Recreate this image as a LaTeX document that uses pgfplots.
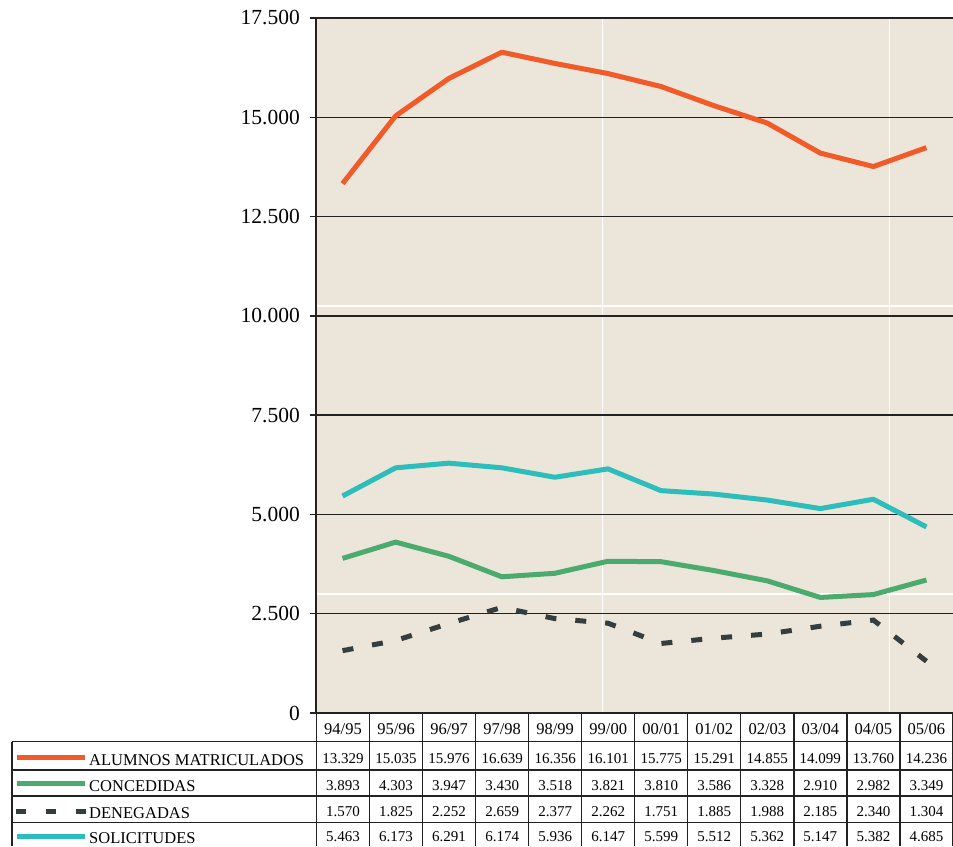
\documentclass[border=0pt]{standalone}
\usepackage{fontspec}
\setmainfont{Liberation Serif}
\usepackage{pgfplots}
\usepackage{pgfplotstable}
\pgfplotsset{compat=1.18}
\definecolor{bgc}{HTML}{ECE5D9}
\definecolor{corange}{HTML}{F15A29}
\definecolor{cgreen}{HTML}{4BAA6D}
\definecolor{cdark}{HTML}{343E3E}
\definecolor{cteal}{HTML}{2DBDBA}
\definecolor{cline}{HTML}{222222}

\pgfplotstableread{
x    alum   conc  dene  soli
0.5  13329  3893  1570  5463
1.5  15035  4303  1825  6173
2.5  15976  3947  2252  6291
3.5  16639  3430  2659  6174
4.5  16356  3518  2377  5936
5.5  16101  3821  2262  6147
6.5  15775  3810  1751  5599
7.5  15291  3586  1885  5512
8.5  14855  3328  1988  5362
9.5  14099  2910  2185  5147
10.5 13760  2982  2340  5382
11.5 14236  3349  1304  4685
}\datatable

\begin{document}
\begin{tikzpicture}[x=1pt,y=1pt]
\useasboundingbox (0,0) rectangle (953,-846);
% textured background and tile seams
\fill[bgc] (316,-713) rectangle (953,-18);
\draw[white,line width=1.3] (602.7,-713) -- (602.7,-18);
\draw[white,line width=1.3] (889.5,-713) -- (889.5,-18);
\draw[white,line width=1.3] (316,-306) -- (953,-306);
\draw[white,line width=1.3] (316,-594) -- (953,-594);
\begin{axis}[
  at={(316pt,-713pt)}, anchor=south west,
  scale only axis, width=637pt, height=695pt,
  xmin=0, xmax=12, ymin=0, ymax=17500,
  xtick=\empty,
  ytick={0,2500,5000,7500,10000,12500,15000,17500},
  scaled y ticks=false,
  ymajorgrids,
  grid style={cline, line width=1.3pt},
  axis lines*=left,
  axis line style={cline, line width=1.4pt},
  ytick style={cline, line width=1.3pt},
  tick align=outside,
  major tick length=6pt,
  yticklabel style={font=\fontsize{21.5}{25}\selectfont, inner sep=2pt, xshift=-8pt},
  /pgf/number format/1000 sep={.},
  /pgf/number format/fixed,
  /pgf/number format/precision=0,
  /pgf/number format/assume math mode=true,
  clip=false,
]
\addplot[corange, line width=5pt, line join=round] table[x=x, y=alum] {\datatable};
\addplot[cgreen, line width=5pt, line join=round] table[x=x, y=conc] {\datatable};
\addplot[cdark, line width=5pt, dash pattern=on 11pt off 19pt] table[x=x, y=dene] {\datatable};
\addplot[cteal, line width=5pt, line join=round] table[x=x, y=soli] {\datatable};
\end{axis}
% data table
\begin{scope}[line width=1.3, cline]
\draw (12,-741.7) -- (953,-741.7);
\draw (12,-770) -- (953,-770);
\draw (12,-796) -- (953,-796);
\draw (12,-822.3) -- (953,-822.3);
\draw (12,-741.7) -- (12,-846);
\foreach \k in {0,...,11} {
  \draw ({316.5+53.04*\k},-713) -- ({316.5+53.04*\k},-846);
}
\draw (952.3,-713) -- (952.3,-846);
\end{scope}
% legend samples
\draw[corange, line width=5] (17,-757.7) -- (85,-757.7);
\draw[cgreen, line width=5] (17,-783) -- (85,-783);
\draw[cdark, line width=5, dash pattern=on 10pt off 20pt] (16,-811) -- (87,-811);
\draw[cteal, line width=5] (17,-836.7) -- (85,-836.7);
\begin{scope}[every node/.style={anchor=base west, inner sep=0pt, font=\fontsize{16.5}{19}\selectfont}]
\node at (89,-765) {ALUMNOS MATRICULADOS};
\node at (89,-791.7) {CONCEDIDAS};
\node at (89,-818) {DENEGADAS};
\node at (89,-843) {SOLICITUDES};
\end{scope}
\begin{scope}[every node/.style={anchor=base, inner sep=0pt}]
\foreach \c [count=\i from 0] in {94/95,95/96,96/97,97/98,98/99,99/00,00/01,01/02,02/03,03/04,04/05,05/06} {
  \node[font=\fontsize{16.5}{19}\selectfont] at ({343+53.04*\i},-734) {\c};
}
\foreach \v [count=\i from 0] in {13.329,15.035,15.976,16.639,16.356,16.101,15.775,15.291,14.855,14.099,13.760,14.236} {
  \node[font=\fontsize{15}{18}\selectfont] at ({343+53.04*\i},-763) {\v};
}
\foreach \v [count=\i from 0] in {3.893,4.303,3.947,3.430,3.518,3.821,3.810,3.586,3.328,2.910,2.982,3.349} {
  \node[font=\fontsize{15}{18}\selectfont] at ({343+53.04*\i},-790) {\v};
}
\foreach \v [count=\i from 0] in {1.570,1.825,2.252,2.659,2.377,2.262,1.751,1.885,1.988,2.185,2.340,1.304} {
  \node[font=\fontsize{15}{18}\selectfont] at ({343+53.04*\i},-816.7) {\v};
}
\foreach \v [count=\i from 0] in {5.463,6.173,6.291,6.174,5.936,6.147,5.599,5.512,5.362,5.147,5.382,4.685} {
  \node[font=\fontsize{15}{18}\selectfont] at ({343+53.04*\i},-841.7) {\v};
}
\end{scope}
\end{tikzpicture}
\end{document}
